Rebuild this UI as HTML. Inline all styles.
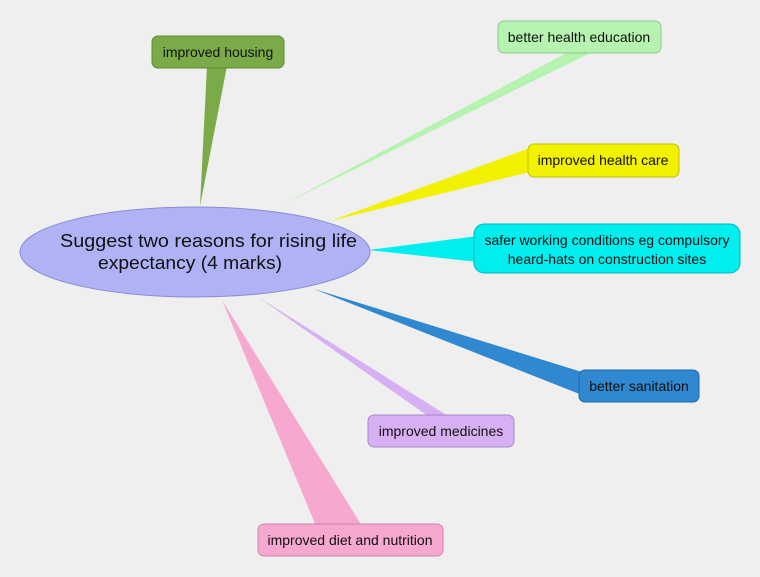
<!DOCTYPE html>
<html><head><meta charset="utf-8"><style>
html,body{margin:0;padding:0;background:#efefef;}
svg{display:block;}
text{font-family:"Liberation Sans",sans-serif;font-size:14px;fill:#111;}
</style></head><body>
<svg width="760" height="577" viewBox="0 0 760 577" xmlns="http://www.w3.org/2000/svg">
<rect width="760" height="577" fill="#efefef"/>
<polygon points="207,66 227,66 200,206" fill="#7aab48"/>
<polygon points="568,52 592,52 282,205" fill="#b6f3b0"/>
<polygon points="530,148 530,172 330,221" fill="#f2f200"/>
<polygon points="478,236 478,262 368,250" fill="#00eeee"/>
<polygon points="582,372 582,395 314,289" fill="#2f88d0"/>
<polygon points="428,416 448,416 258,297" fill="#d6b0f3"/>
<polygon points="316,526 362,526 222,300" fill="#f6a8d0"/>
<ellipse cx="195" cy="252" rx="175" ry="45" fill="#b0b2f6" stroke="#8a8cd0" stroke-width="1"/>
<text x="60" y="247" textLength="297" lengthAdjust="spacingAndGlyphs" style="font-size:18px">Suggest two reasons for rising life</text>
<text x="98" y="269" textLength="184" lengthAdjust="spacingAndGlyphs" style="font-size:18px">expectancy (4 marks)</text>
<rect x="152" y="36" width="132" height="32" rx="6" fill="#7aab48" stroke="#5a8a30"/>
<text x="218" y="57" text-anchor="middle">improved housing</text>
<rect x="498" y="21" width="163" height="32" rx="6" fill="#b6f3b0" stroke="#90c890"/>
<text x="579" y="42" text-anchor="middle">better health education</text>
<rect x="528" y="144" width="151" height="33" rx="6" fill="#f2f200" stroke="#c0c000"/>
<text x="603" y="165" text-anchor="middle">improved health care</text>
<rect x="474" y="224" width="266" height="49" rx="10" fill="#00eeee" stroke="#00b8c0"/>
<text x="607" y="245" text-anchor="middle">safer working conditions eg compulsory</text>
<text x="607" y="264" text-anchor="middle">heard-hats on construction sites</text>
<rect x="579" y="370" width="120" height="32" rx="6" fill="#2f88d0" stroke="#1e68a8"/>
<text x="639" y="391" text-anchor="middle">better sanitation</text>
<rect x="368" y="415" width="146" height="32" rx="6" fill="#d6b0f3" stroke="#a888c8"/>
<text x="441" y="436" text-anchor="middle">improved medicines</text>
<rect x="258" y="524" width="185" height="32" rx="6" fill="#f6a8d0" stroke="#c888a8"/>
<text x="350" y="545" text-anchor="middle">improved diet and nutrition</text>
</svg>
</body></html>
